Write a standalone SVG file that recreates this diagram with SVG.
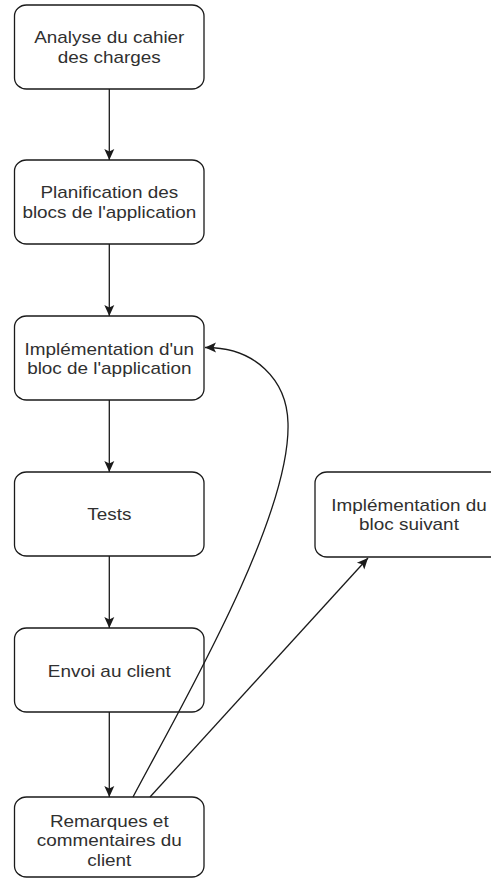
<svg xmlns="http://www.w3.org/2000/svg" width="491" height="879" viewBox="0 0 491 879">
  <style>
    .box { fill: #ffffff; stroke: #1a1a1a; stroke-width: 1.3; }
    .t { font-family: "Liberation Sans", Arial, sans-serif; font-size: 16.8px; fill: #303030; text-anchor: middle; }
    .edge { fill: none; stroke: #1a1a1a; stroke-width: 1.3; }
  </style>
  <defs>
    <marker id="arr" viewBox="-12 -6 13 12" markerWidth="13" markerHeight="12" refX="0" refY="0" orient="auto" markerUnits="userSpaceOnUse">
      <path d="M0,0 L-11,-5 L-8.5,0 L-11,5 Z" fill="#1a1a1a"/>
    </marker>
  </defs>
  <rect width="491" height="879" fill="#ffffff"/>

  <g id="n1">
    <rect class="box" x="14.5" y="5" width="189.5" height="84" rx="12" ry="11"/>
    <text class="t" transform="matrix(1.125 0 0 1 109.3 42.7)"><tspan x="0" y="0">Analyse du cahier</tspan><tspan x="0" y="20">des charges</tspan></text>
  </g>
  <g id="n2">
    <rect class="box" x="14.5" y="160" width="189.5" height="84" rx="12" ry="11"/>
    <text class="t" transform="matrix(1.125 0 0 1 109.3 198)"><tspan x="0" y="0">Planification des</tspan><tspan x="0" y="20">blocs de l'application</tspan></text>
  </g>
  <g id="n3">
    <rect class="box" x="14.5" y="316" width="189.5" height="84" rx="12" ry="11"/>
    <text class="t" transform="matrix(1.125 0 0 1 109.3 354.5)"><tspan x="0" y="0">Implémentation d'un</tspan><tspan x="0" y="20">bloc de l'application</tspan></text>
  </g>
  <g id="n4">
    <rect class="box" x="14.5" y="472" width="189.5" height="84" rx="12" ry="11"/>
    <text class="t" transform="matrix(1.125 0 0 1 109.3 520)"><tspan x="0" y="0">Tests</tspan></text>
  </g>
  <g id="n5">
    <rect class="box" x="14.5" y="628" width="189.5" height="84" rx="12" ry="11"/>
    <text class="t" transform="matrix(1.125 0 0 1 109.3 676.5)"><tspan x="0" y="0">Envoi au client</tspan></text>
  </g>
  <g id="n6">
    <rect class="box" x="14.5" y="797" width="189.5" height="80" rx="12" ry="11"/>
    <text class="t" transform="matrix(1.125 0 0 1 109.3 826.5)"><tspan x="0" y="0">Remarques et</tspan><tspan x="0" y="20">commentaires du</tspan><tspan x="0" y="40">client</tspan></text>
  </g>
  <g id="n7">
    <rect class="box" x="315" y="472" width="189.5" height="85" rx="12" ry="11"/>
    <text class="t" transform="matrix(1.125 0 0 1 409 510.5)"><tspan x="0" y="0">Implémentation du</tspan><tspan x="0" y="20">bloc suivant</tspan></text>
  </g>

  <g id="connectors">
    <line class="edge" x1="109.3" y1="89" x2="109.3" y2="160" marker-end="url(#arr)"/>
    <line class="edge" x1="109.3" y1="244" x2="109.3" y2="316" marker-end="url(#arr)"/>
    <line class="edge" x1="109.3" y1="400" x2="109.3" y2="472" marker-end="url(#arr)"/>
    <line class="edge" x1="109.3" y1="556" x2="109.3" y2="628" marker-end="url(#arr)"/>
    <line class="edge" x1="109.3" y1="712" x2="109.3" y2="797" marker-end="url(#arr)"/>
    <path class="edge" d="M133,797 C175,717 291,520 288,423 C287,380 255,347 205,347.5" marker-end="url(#arr)"/>
    <line class="edge" x1="150" y1="797" x2="368" y2="558" marker-end="url(#arr)"/>
  </g>
</svg>
